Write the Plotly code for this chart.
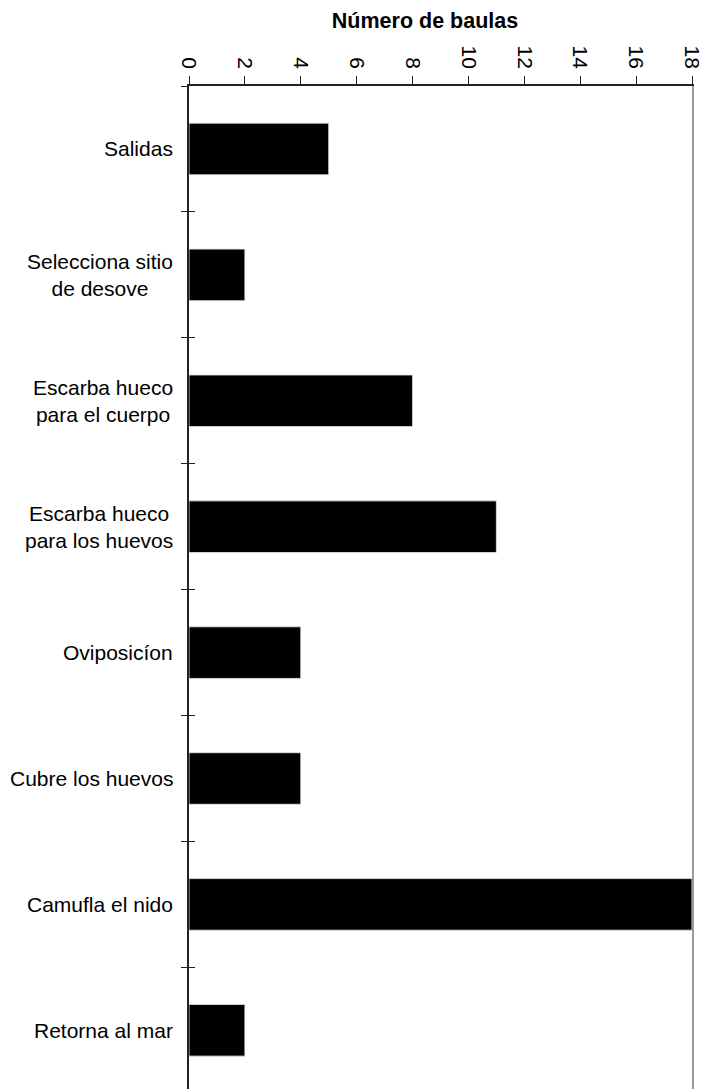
import plotly.graph_objects as go

# --- datos ---
etapas = [
    "Salidas",
    "Selecciona sitio<br>de desove",
    "Escarba hueco<br>para el cuerpo",
    "Escarba hueco<br>para los huevos",
    "Oviposicíon",
    "Cubre los huevos",
    "Camufla el nido",
    "Retorna al mar",
]
num_baulas = [5, 2, 8, 11, 4, 4, 18, 2]
x_ticks = list(range(0, 19, 2))

FONT = "Liberation Sans, Arial, Helvetica, sans-serif"
Y_RANGE = [7.466, -0.5]
W, H = 706, 1081  # la página añade 8 px de margen al cuerpo

fig = go.Figure()

# barras principales
fig.add_trace(go.Bar(
    x=num_baulas, y=etapas, orientation="h",
    marker=dict(color="black", line=dict(width=0)),
    width=0.41, hoverinfo="skip", showlegend=False,
))

# trazas fantasma para los ejes auxiliares (marcas cruzadas y línea derecha)
for ax in ["y2", "y3"]:
    fig.add_trace(go.Bar(
        x=num_baulas, y=etapas, orientation="h", yaxis=ax,
        marker=dict(color="rgba(0,0,0,0)"), width=0.41,
        hoverinfo="skip", showlegend=False,
    ))

# etiquetas de categorías centradas
for etapa in etapas:
    fig.add_annotation(
        x=0, xref="paper", y=etapa, yref="y",
        text=etapa, showarrow=False,
        xanchor="right", align="center", xshift=-14,
        font=dict(family=FONT, size=21, color="black"),
    )

fig.update_layout(
    width=W, height=H,
    margin=dict(l=181, r=22, t=78, b=0),
    paper_bgcolor="white", plot_bgcolor="white",
    font=dict(family=FONT, size=21, color="black"),
    title=dict(
        text="<b>Número de baulas</b>",
        x=417 / W, xref="container", xanchor="center",
        y=1 - 12 / H, yref="container", yanchor="middle",
        font=dict(family=FONT, size=21.5, color="black"),
    ),
    xaxis=dict(
        side="top", range=[0, 18], tickvals=x_ticks,
        tickangle=90, ticks="outside", ticklen=8, tickcolor="#222",
        showline=True, linecolor="#222", linewidth=1.5,
        showgrid=False, zeroline=False,
        tickfont=dict(family=FONT, size=21, color="black"),
    ),
    yaxis=dict(
        type="category", categoryorder="array", categoryarray=etapas,
        range=Y_RANGE, tickson="boundaries",
        ticks="outside", ticklen=6, tickcolor="#222",
        showticklabels=False, showline=True, linecolor="#222", linewidth=1.5,
        showgrid=False, zeroline=False,
    ),
    yaxis2=dict(
        type="category", categoryorder="array", categoryarray=etapas,
        overlaying="y", side="left", range=Y_RANGE, tickson="boundaries",
        ticks="inside", ticklen=6, tickcolor="#222",
        showticklabels=False, showline=False, showgrid=False, zeroline=False,
    ),
    yaxis3=dict(
        type="category", categoryorder="array", categoryarray=etapas,
        overlaying="y", side="right", range=Y_RANGE,
        ticks="", showticklabels=False,
        showline=True, linecolor="#9a9a9a", linewidth=2,
        showgrid=False, zeroline=False,
    ),
    bargap=0.59,
)

fig.write_html("out.html")
